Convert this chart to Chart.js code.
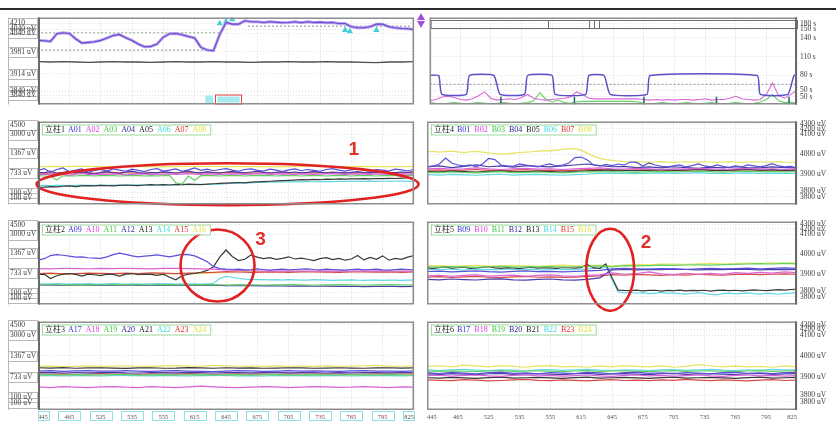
<!DOCTYPE html>
<html>
<head>
<meta charset="utf-8">
<script src="https://cdn.jsdelivr.net/npm/chart.js@4.4.0/dist/chart.umd.min.js"></script>
<style>
html, body { margin: 0; padding: 0; background: #fff; }
#stage { position: relative; width: 836px; height: 425px; overflow: hidden; background: #fff; }
canvas { position: absolute; }
.topline { position: absolute; left: 0; top: 8px; width: 836px; height: 2px; background: #2a2a2a; z-index: 2; }
.arr-up, .arr-dn { position: absolute; left: 417px; width: 0; height: 0; border-left: 4px solid transparent; border-right: 4px solid transparent; z-index: 2; }
.arr-up { top: 13px; border-bottom: 7px solid #a64de0; }
.arr-dn { top: 21px; border-top: 7px solid #a64de0; }
</style>
</head>
<body>
<div id="stage">
  <canvas id="tl"></canvas><canvas id="tr"></canvas>
  <canvas id="p1"></canvas><canvas id="p4"></canvas>
  <canvas id="p2"></canvas><canvas id="p5"></canvas>
  <canvas id="p3"></canvas><canvas id="p6"></canvas>
  <div class="topline"></div>
  <div class="arr-up"></div><div class="arr-dn"></div>
</div>
<script>
// ---- time axis (minutes from start) ----
const xTickVals = [0, 10, 20, 30, 40, 50, 60, 70, 80, 90, 100, 110, 120];
const xTickLabels = ['445', '465', '525', '535', '555', '615', '645', '675', '705', '735', '765', '795', '825'];

// ---- axis tick tables ----
const volTickVals = [4066, 4048, 4036, 3981, 3914, 3862, 3850];
const volTickLabels = ['4210', '4040 uV', '4040 uV', '3981 uV', '3914 uV', '3840 uV', '3840 uV'];
const secTickVals = [162, 153, 140, 110, 80, 57, 46];
const secTickLabels = ['180 s', '150 s', '140 s', '110 s', '80 s', '50 s', '50 s'];
const leftTickVals = [2300, 1980, 1367, 733, 100, -60];
const leftTickLabels = ['4500', '3000 uV', '1367 uV', '733 uV', '100 uV', '100 uV'];
const rightTickVals = [4150, 4128, 4100, 4000, 3900, 3815, 3785];
const rightTickLabels = ['4300 uV', '4200 uV', '4100 uV', '4000 uV', '3900 uV', '3800 uV', '3800 uV'];

// ---- supply voltage trace (uV) ----
const tlVolt = [4015,4014,4012,4035,4038,4036,4020,4007,4009,4011,4015,4022,4030,4033,4023,4015,4004,3996,3997,4004,
  4025,4035,4036,4032,4027,4022,3994,3986,3984,4033,4069,4064,4064,4074,4071,4071,4069,4071,4070,4068,
  4069,4071,4068,4071,4069,4070,4068,4069,4066,4066,4056,4053,4053,4056,4064,4064,4056,4053,4051,4050,4048];
const tlBase = [3951,3950,3951,3950,3949,3950,3951,3950,3950,3949,3950,3951,3950,3950,3951,3950,3950,3949,3950,3950,
  3951,3950,3950,3951,3950,3950,3949,3948,3950,3950,3951];
const tlGuideUpper = [1, 58, 4038];
const tlGuideLower = [1, 56.5, 3986];
const tlGuideAfter = [67, 119, 4058];
const tlMarkX = [58, 60, 62, 98, 99.5, 108];
const tlMarkY = [4066, 4072, 4078, 4046, 4042, 4046];

// ---- interval trace (s) ----
const trStepX = [0, 3, 4, 12, 13, 21, 23, 31, 32, 40, 41, 51, 52, 57, 59, 71, 72, 107, 108, 117, 119, 120];
const trStepY = [80, 80, 50, 50, 80, 80, 50, 50, 80, 80, 50, 50, 80, 80, 50, 50, 80, 80, 50, 50, 80, 80];
const trPink = [40,42,46,47,45,42,41,43,48,54,44,41,42,43,42,45,50,44,42,41,42,43,44,46,54,50,44,43,43,43,
  43,43,43,43,43,42,41,42,41,42,41,42,42,41,42,43,41,42,42,44,47,43,42,41,42,50,68,48,44,50,57];
const trGreen = [37,36,35,36,37,36,35,36,37,36,35,36,37,36,35,36,37,40,53,42,38,41,37,36,38,39,39,39,39,39,
  39,39,39,39,38,36,35,36,37,36,35,36,37,36,35,36,37,36,35,36,37,36,35,36,38,42,50,40,37,38,36];
const trLevel = 66;
const trMarkX = [23.3, 47.3, 70, 93.7, 117.4];
const trMarkY = [40, 40, 40, 40, 40];

// ---- 立柱1 (uV) ----
const a01 = [820,880,760,850,900,780,830,870,760,820,850,800,870,830,790,860,820,780,850,880,800,830,870,790,840,900,820,860,810,850,
  880,830,790,850,870,820,800,860,830,780,840,870,810,850,820,790,850,880,830,800,840,870,820,790,850,830,800,860,840,810,850];
const a02 = [690,700,680,710,690,670,700,720,690,680,700,690,710,700,680,690,710,700,690,680,700,710,690,700,720,700,690,710,700,690,
  700,710,700,690,700,720,710,690,700,710,700,690,710,700,690,700,710,720,700,690,700,710,700,690,710,700,690,700,710,700,690];
const a03 = [650,640,630,520,640,650,640,660,650,640,650,660,650,640,650,660,650,640,650,640,650,660,420,380,640,500,650,660,650,640,
  650,660,650,640,650,660,650,650,640,650,660,650,640,650,660,650,640,650,660,650,640,650,660,650,640,650,660,650,640,650,660];
const a04 = [760,740,800,720,760,790,730,770,740,700,760,790,740,720,770,800,750,720,760,740,780,760,730,770,800,760,740,780,750,730,
  770,790,760,740,770,800,760,730,760,780,750,770,740,760,790,760,740,770,750,730,760,780,750,740,770,790,760,750,770,760,780];
const a05 = [270,280,300,290,310,320,300,320,330,320,340,330,320,340,350,340,330,350,360,350,360,350,370,360,380,370,360,380,390,400,
  410,420,430,420,440,450,460,470,480,490,500,510,520,515,530,520,540,530,545,540,550,545,555,550,560,555,565,560,570,575,578];
const a06 = [330,335,330,340,335,330,340,345,340,335,345,340,350,345,340,350,355,350,345,355,360,355,350,360,365,360,370,365,375,380,
  390,400,410,415,420,430,435,440,445,450,450,455,450,460,455,460,465,460,465,470,465,470,468,472,468,470,475,470,472,468,470];
const a07 = [740,730,750,745,735,740,755,745,735,740,750,745,738,742,750,748,740,736,745,752,744,738,742,750,746,740,744,750,746,742,748];
const a08 = [945,950,940,948,952,944,938,946,950,942,936,944,950,955,948,940,946,952,944,938,942,948,954,946,940,944,950,946,940,944,948];

// ---- 立柱2 (uV) ----
const a09 = [1150,1200,1300,1330,1310,1280,1250,1260,1230,1220,1210,1260,1330,1380,1340,1290,1260,1280,1300,1320,1290,
  1260,1300,1340,1330,1290,1200,1100,950,880,860,850,860,840,850,870,850,830,850,860,840,850,860,870,850,840,860,850,840,830,850,
  860,840,850,860,840,830,850,860,850,840];
const a10 = [880,870,890,880,875,885,880,890,880,870,885,890,880,870,860,840,820,810,800,805,800,795,800,805,800,795,800,805,800,795,800];
const a11 = [360,355,350,360,355,350,360,365,355,350,360,355,350,360,355,350,360,355,350,355,360,355,350,355,360,355,350,355,360,355,350];
const a12 = [350,345,340,350,345,340,345,350,340,335,345,340,335,340,345,330,325,330,320,325,315,320,310,315,305,310,300,305,310,300,305];
const a13 = [680,700,560,650,700,720,690,640,700,680,650,700,690,640,700,720,680,700,690,660,700,600,520,650,700,720,760,820,
  940,1250,1480,1270,1140,1180,1320,1250,1200,1230,1180,1210,1260,1190,1220,1180,1140,1200,1230,1170,1210,1150,1190,1300,1160,1240,
  1180,1290,1150,1210,1180,1250,1300];
const a14 = [390,380,385,395,390,380,385,390,395,385,380,390,395,385,380,390,385,380,390,395,385,390,380,385,390,385,380,390,400,
  560,630,600,560,540,530,520,525,515,520,510,520,515,505,510,520,515,510,500,505,510,515,505,500,510,505,500,510,505,500,505,510];
const a15 = [720,730,710,720,735,725,715,730,720,740,730,720,735,745,760,780,770,760,765,770,760,775,770,765,760,770,775,765,770,760,770];
const a16 = [700,705,700,710,705,700,710,715,705,700,710,705,715,720,740,760,780,790,790,785,790,795,790,785,790,795,790,785,790,795,790];

// ---- 立柱3 (uV) ----
const a17 = [900,910,890,905,915,900,895,910,900,890,905,915,900,890,880,900,910,905,890,900,910,895,905,900,890,905,910,895,900,890,905];
const a18 = [420,400,430,410,395,420,430,410,400,425,415,400,420,440,420,405,395,410,430,420,400,415,430,420,405,410,430,415,400,420,415];
const a19 = [790,785,780,790,785,780,790,795,780,785,790,780,785,790,780,785,790,780,785,790,785,780,790,785,780,790,785,780,790,785,780];
const a20 = [850,860,840,855,845,850,860,845,840,855,850,845,860,850,840,850,855,845,850,860,845,850,855,840,850,845,855,850,845,850,855];
const a21 = [1000,990,1005,985,995,1000,990,980,995,1000,985,990,1005,995,985,1000,990,995,985,990,1000,995,985,990,1000,990,985,995,1000,990,995];
const a22 = [760,770,755,765,760,750,765,770,760,755,765,760,750,760,770,765,755,760,750,765,760,770,755,760,765,750,760,770,760,755,765];
const a23 = [810,805,815,800,810,820,805,810,800,815,810,805,820,810,800,810,815,805,810,800,815,810,805,815,810,800,810,815,805,810,815];
const a24 = [1040,1050,1035,1045,1055,1040,1050,1060,1045,1040,1055,1065,1050,1045,1070,1055,1045,1050,1040,1055,1045,1050,1040,1055,1045,1050,1060,1070,1050,1045,1055];

// ---- 立柱4 (uV) ----
const b01 = [3935,3940,3950,3980,3955,3945,3940,3945,3935,3950,3978,3972,3945,3940,3938,3950,3945,3940,3935,3945,3950,3940,3945,3955,3982,3985,3970,3945,3940,3948,
  3942,3950,3945,3960,3958,3940,3955,3945,3938,3935,3940,3945,3935,3942,3950,3940,3935,3945,3938,3932,3940,3935,3945,3940,3935,3942,3952,3940,3935,3938,3930];
const b02 = [3925,3928,3924,3926,3930,3925,3922,3926,3928,3924,3926,3922,3925,3928,3930,3926,3924,3928,3925,3922,3926,3924,3928,3925,3922,3926,3928,3924,3926,3922,3925];
const b03 = [3908,3906,3910,3907,3905,3909,3911,3906,3908,3910,3907,3905,3909,3911,3910,3912,3910,3908,3911,3913,3910,3912,3914,3911,3909,3912,3914,3911,3913,3910,3912];
const b04 = [3935,3940,3932,3938,3945,3936,3940,3934,3942,3938,3935,3940,3945,3950,3942,3936,3938,3932,3935,3930,3936,3932,3928,3934,3930,3936,3932,3930,3935,3932,3930];
const b05 = [3912,3910,3914,3911,3909,3913,3915,3910,3912,3914,3911,3909,3913,3915,3918,3920,3918,3916,3919,3921,3918,3920,3922,3919,3917,3920,3922,3919,3921,3918,3920];
const b06 = [3896,3894,3897,3895,3893,3896,3898,3894,3896,3897,3895,3893,3896,3898,3902,3904,3903,3901,3904,3905,3903,3904,3906,3903,3902,3904,3905,3903,3904,3902,3903];
const b07 = [3918,3920,3916,3919,3922,3918,3915,3919,3921,3917,3919,3916,3918,3921,3922,3919,3917,3920,3918,3915,3919,3917,3921,3918,3916,3919,3921,3917,3919,3916,3918];
const b08 = [4012,4014,4010,4013,4015,4011,4008,4012,4014,4010,4006,4003,4000,4002,4005,4008,4010,4012,4015,4018,4016,4020,4024,4026,4028,
  4020,4005,3990,3980,3972,3968,3965,3962,3960,3962,3960,3958,3960,3962,3960,3958,3960,3961,3960,3959,3961,3960,3958,3960,3962,3960,3958,3960,3961,3960,3959,3960,3962,3960,3958,3960];

// ---- 立柱5 (uV) ----
const b09 = [3912,3914,3910,3913,3915,3911,3909,3913,3915,3911,3913,3910,3912,3915,3918,3925,3928,3926,3924,3927,3925,3923,3926,3928,3925,3927,3929,3926,3928,3930,3928];
const b10 = [3890,3893,3888,3892,3895,3889,3891,3894,3888,3892,3895,3890,3888,3892,3895,3905,3898,3902,3910,3900,3896,3903,3898,3902,3897,3906,3903,3908,3904,3910,3906];
const b11 = [3936,3934,3937,3935,3933,3936,3938,3934,3936,3935,3937,3934,3936,3938,3940,3935,3942,3940,3942,3944,3943,3945,3946,3944,3947,3948,3950,3952,3950,3953,3951];
const b12 = [3872,3870,3874,3871,3869,3873,3875,3870,3868,3872,3874,3870,3868,3872,3880,3920,3922,3920,3923,3921,3924,3922,3920,3923,3921,3924,3922,3920,3923,3921,3922];
const b13 = [3930,3928,3932,3935,3929,3931,3934,3928,3930,3933,3936,3930,3928,3932,3930,3927,3931,3934,3929,3932,3930,3928,3933,3931,3929,3932,3948,
  3930,3928,3950,3880,3818,3816,3815,3818,3814,3816,3817,3813,3816,3815,3818,3814,3816,3815,3817,3813,3816,3818,3815,3817,3814,3816,3819,3817,3815,3818,3820,3818,3821,3823];
const b14 = [3922,3924,3920,3923,3925,3921,3919,3923,3925,3921,3923,3920,3922,3925,3923,3920,3922,3924,3921,3919,3923,3925,3921,3923,3920,3922,3925,3930,3926,3935,
  3870,3808,3804,3806,3802,3805,3800,3803,3806,3801,3804,3800,3798,3802,3805,3801,3796,3794,3800,3803,3799,3801,3804,3800,3798,3802,3800,3797,3801,3803,3805];
const b15 = [3884,3886,3882,3885,3887,3883,3881,3885,3887,3883,3885,3882,3884,3887,3890,3896,3893,3897,3895,3892,3896,3894,3898,3895,3893,3897,3899,3896,3898,3900,3898];
const b16 = [3940,3942,3938,3941,3943,3939,3941,3943,3940,3938,3942,3944,3940,3942,3944,3940,3945,3948,3946,3949,3950,3948,3951,3953,3950,3952,3955,3953,3956,3954,3956];

// ---- 立柱6 (uV) ----
const b17 = [3922,3918,3924,3920,3916,3922,3925,3919,3921,3917,3923,3920,3918,3924,3921,3917,3922,3925,3919,3921,3918,3923,3920,3917,3922,3924,3919,3921,3918,3923,3924];
const b18 = [3908,3910,3906,3909,3911,3907,3905,3909,3911,3907,3909,3906,3908,3911,3907,3905,3909,3911,3907,3909,3906,3908,3911,3907,3905,3909,3911,3907,3909,3906,3908];
const b19 = [3930,3928,3931,3929,3927,3930,3932,3928,3930,3931,3929,3927,3930,3932,3928,3930,3931,3929,3927,3930,3932,3928,3930,3931,3929,3927,3930,3932,3928,3930,3931];
const b20 = [3916,3914,3918,3915,3913,3917,3919,3914,3916,3918,3915,3913,3917,3919,3914,3916,3918,3915,3913,3917,3919,3914,3916,3918,3915,3913,3917,3919,3914,3916,3918];
const b21 = [3898,3896,3900,3897,3895,3899,3901,3896,3898,3900,3897,3895,3899,3901,3896,3898,3900,3897,3895,3899,3901,3896,3898,3900,3897,3895,3899,3901,3896,3898,3900];
const b22 = [3935,3932,3936,3938,3934,3932,3936,3934,3930,3935,3937,3933,3936,3938,3934,3932,3936,3934,3932,3935,3937,3933,3935,3938,3934,3932,3936,3934,3938,3935,3936];
const b23 = [3888,3886,3884,3889,3887,3883,3885,3888,3890,3886,3884,3888,3886,3883,3887,3889,3885,3887,3884,3888,3886,3890,3887,3884,3888,3886,3883,3887,3889,3885,3887];
const b24 = [3952,3955,3950,3958,3954,3950,3956,3952,3948,3954,3956,3950,3952,3948,3954,3950,3956,3952,3950,3954,3948,3952,3960,3955,3950,3954,3950,3952,3948,3954,3950];

// channel colours, in legend order
const palette = ['#5a50d8', '#d862d8', '#62d062', '#4a3ca8', '#3a3a3a', '#62d8e2', '#d84a4a', '#e6e462'];
const legendPalette = ['#3030d0', '#e040e0', '#40c840', '#282890', '#202020', '#40d8e0', '#e03030', '#e0e040'];

const FONT = "'Liberation Serif', 'Noto Sans CJK SC', serif";
Chart.defaults.font.family = FONT;

// frames, tick boxes, legends and hand-drawn markings
const panelDecor = {
  id: 'panelDecor',
  beforeDraw(chart, args, o) {
    const ctx = chart.ctx, a = chart.chartArea, ys = chart.scales.y;
    ctx.save();
    ctx.fillStyle = '#fff';
    ctx.fillRect(0, 0, chart.width, chart.height);
    if (o.side === 'left') {
      ctx.strokeStyle = '#b8b8b8';
      ctx.lineWidth = 1;
      ys.ticks.forEach(t => {
        const y = Math.round(ys.getPixelForValue(t.value)) + 0.5;
        ctx.strokeRect(8.5, y - 5, a.left - 9, 10);
      });
      ctx.beginPath();
      ctx.moveTo(8.5, a.top); ctx.lineTo(8.5, a.bottom);
      ctx.stroke();
    }
    ctx.restore();
  },
  afterDatasetsDraw(chart, args, o) {
    const ctx = chart.ctx, a = chart.chartArea, xs = chart.scales.x, ys = chart.scales.y;
    ctx.save();
    if (o.statusBox) {
      const y1 = Math.round(ys.getPixelForValue(o.statusBox.hi)) + 0.5;
      const y2 = Math.round(ys.getPixelForValue(o.statusBox.lo)) + 0.5;
      ctx.strokeStyle = '#6e6e6e'; ctx.lineWidth = 1;
      ctx.strokeRect(a.left + 1.5, y1, a.right - a.left - 1, y2 - y1);
      o.statusBox.marks.forEach(u => {
        const x = Math.round(xs.getPixelForValue(u)) + 0.5;
        ctx.beginPath(); ctx.moveTo(x, y1); ctx.lineTo(x, y2); ctx.stroke();
      });
    }
    if (o.cursor) {
      const x1 = xs.getPixelForValue(o.cursor.from), xm = xs.getPixelForValue(o.cursor.mid), x2 = xs.getPixelForValue(o.cursor.to);
      ctx.fillStyle = '#a4eaee';
      ctx.fillRect(x1, a.bottom - 9, xm - x1 - 2, 8);
      ctx.fillRect(xm + 2, a.bottom - 8, x2 - xm - 4, 6);
      ctx.strokeStyle = '#e04040'; ctx.lineWidth = 1;
      ctx.strokeRect(Math.round(xm) + 0.5, a.bottom - 9.5, Math.round(x2 - xm), 9);
    }
    (o.ellipses || []).forEach(e => {
      ctx.strokeStyle = '#e02222'; ctx.lineWidth = 2.6;
      ctx.beginPath();
      ctx.ellipse(xs.getPixelForValue(e.x), ys.getPixelForValue(e.y), e.rx, e.ry, 0, 0, Math.PI * 2);
      ctx.stroke();
    });
    (o.notes || []).forEach(n => {
      ctx.fillStyle = '#e0302c';
      ctx.font = "bold 19px 'Liberation Sans', Arial, sans-serif";
      ctx.textAlign = 'center'; ctx.textBaseline = 'middle';
      ctx.fillText(n.text, xs.getPixelForValue(n.x), ys.getPixelForValue(n.y));
    });
    ctx.restore();
  },
  afterDraw(chart, args, o) {
    const ctx = chart.ctx, a = chart.chartArea, xs = chart.scales.x;
    ctx.save();
    // plot frame
    ctx.strokeStyle = '#8e8e8e'; ctx.lineWidth = 1.5;
    ctx.strokeRect(a.left + 0.75, a.top + 0.75, a.right - a.left - 1.5, a.bottom - a.top - 1.5);
    ctx.strokeStyle = '#6a6a6a'; ctx.lineWidth = 2;
    ctx.beginPath();
    if (o.side === 'left') { ctx.moveTo(a.left + 1, a.top); ctx.lineTo(a.left + 1, a.bottom); }
    else { ctx.moveTo(a.right - 1, a.top); ctx.lineTo(a.right - 1, a.bottom); }
    ctx.stroke();
    // channel legend
    if (o.legend) {
      ctx.font = '8px ' + FONT;
      ctx.textBaseline = 'middle'; ctx.textAlign = 'left';
      const x0 = a.left + 4, y0 = a.top + 3;
      let w = ctx.measureText(o.legend.title).width + 6;
      o.legend.names.forEach(nm => { w += ctx.measureText(nm).width + 4; });
      ctx.fillStyle = '#fff'; ctx.fillRect(x0, y0, w, 10);
      ctx.strokeStyle = '#9edc9e'; ctx.lineWidth = 1;
      ctx.strokeRect(x0 + 0.5, y0 + 0.5, w, 10);
      let x = x0 + 3;
      ctx.fillStyle = '#222';
      ctx.fillText(o.legend.title, x, y0 + 5.5);
      x += ctx.measureText(o.legend.title).width + 3;
      o.legend.names.forEach((nm, i) => {
        ctx.fillStyle = legendPalette[i];
        ctx.fillText(nm, x, y0 + 5.5);
        x += ctx.measureText(nm).width + 4;
      });
    }
    // boxed time labels
    if (o.timeBoxes) {
      ctx.strokeStyle = '#8ee0e6'; ctx.lineWidth = 1;
      xTickVals.forEach(v => {
        const px = xs.getPixelForValue(v);
        const l = Math.max(a.left, px - 11), r = Math.min(a.right, px + 11);
        ctx.strokeRect(Math.round(l) + 0.5, a.bottom + 1.5, Math.round(r - l), 9);
      });
    }
    ctx.restore();
  }
};
Chart.register(panelDecor);

function series(vals, color, extra) {
  const n = vals.length - 1;
  return Object.assign({
    data: vals.map((v, i) => ({ x: i * 120 / n, y: v })),
    borderColor: color, borderWidth: 1.2, pointRadius: 0, fill: false, tension: 0
  }, extra || {});
}
function pairs(xsArr, ysArr, color, extra) {
  return Object.assign({
    data: xsArr.map((x, i) => ({ x: x, y: ysArr[i] })),
    borderColor: color, borderWidth: 1.2, pointRadius: 0, fill: false, tension: 0
  }, extra || {});
}
function guide(g, color) {
  return pairs([g[0], g[1]], [g[2], g[2]], color, { borderDash: [2, 2], borderWidth: 1 });
}
function channelSets(list) {
  return list.map((vals, i) => series(vals, palette[i]));
}

function panel(id, rect, cfg) {
  const cv = document.getElementById(id);
  cv.width = rect.w; cv.height = rect.h;
  cv.style.left = rect.x + 'px'; cv.style.top = rect.y + 'px';
  cv.style.width = rect.w + 'px'; cv.style.height = rect.h + 'px';
  const left = cfg.side === 'left';
  return new Chart(cv, {
    type: 'line',
    data: { datasets: cfg.datasets },
    options: {
      responsive: false, animation: false, devicePixelRatio: 1,
      layout: { padding: { left: left ? 10 : 3, right: left ? 10 : 0, top: 0, bottom: 0 } },
      events: [],
      plugins: { legend: { display: false }, tooltip: { enabled: false }, panelDecor: cfg.decor },
      scales: {
        x: {
          type: 'linear', min: 0, max: 120,
          afterBuildTicks: s => { s.ticks = xTickVals.map(v => ({ value: v })); },
          afterFit: s => { s.height = cfg.bottom ? 14 : 0; },
          ticks: {
            display: !!cfg.bottom, autoSkip: false, maxRotation: 0, align: 'inner', padding: 3,
            color: '#555', font: { size: 6.5 },
            callback: (v, i) => xTickLabels[i]
          },
          grid: { color: '#d6d6d6', lineWidth: 1, drawTicks: false },
          border: { display: false, dash: [1, 2] }
        },
        y: {
          type: 'linear', position: left ? 'left' : 'right', min: cfg.min, max: cfg.max,
          afterBuildTicks: s => { s.ticks = cfg.tickVals.map(v => ({ value: v })); },
          afterFit: s => { s.width = left ? 28 : 39; },
          ticks: {
            autoSkip: false, padding: 3, crossAlign: left ? 'far' : 'near',
            color: '#3a3a3a', font: { size: 7.5 },
            callback: (v, i) => cfg.tickLabels[i]
          },
          grid: { color: '#e0e0e0', lineWidth: 1, drawTicks: false },
          border: { display: false, dash: [1, 2] }
        }
      }
    }
  });
}

const L = { x: 0, w: 424 }, R = { x: 424, w: 412 };
const rows = [{ y: 10, h: 102 }, { y: 114, h: 98 }, { y: 214, h: 98 }, { y: 314, h: 110 }];
const leftRange = { min: -280, max: 2400 }, rightRange = { min: 3745, max: 4165 };
const names = (p, from) => Array.from({ length: 8 }, (_, i) => p + String(from + i).padStart(2, '0'));

// supply voltage
panel('tl', { x: L.x, y: rows[0].y, w: L.w, h: rows[0].h }, {
  side: 'left', min: 3822, max: 4084, tickVals: volTickVals, tickLabels: volTickLabels,
  decor: { side: 'left', cursor: { from: 53.4, mid: 56.6, to: 65 } },
  datasets: [
    series(tlVolt, '#6a48d0', { borderWidth: 1.1 }),
    series(tlVolt, '#b9a2ec', { borderWidth: 3 }),
    pairs(tlMarkX, tlMarkY, '#44d0d8', { showLine: false, pointRadius: 2.5, pointStyle: 'triangle', pointBackgroundColor: '#44d0d8', pointBorderColor: '#44d0d8' }),
    guide(tlGuideAfter, '#8c8c8c'),
    guide(tlGuideUpper, '#8fa88f'),
    guide(tlGuideLower, '#8c8c8c'),
    series(tlBase, '#4e4e4e', { borderWidth: 1.3 })
  ]
});

// interval
panel('tr', { x: R.x, y: rows[0].y, w: R.w, h: rows[0].h }, {
  side: 'right', min: 34, max: 172, tickVals: secTickVals, tickLabels: secTickLabels,
  decor: { side: 'right', statusBox: { hi: 168, lo: 155, marks: [38.6, 52.2, 53.6, 55.4] } },
  datasets: [
    pairs(trStepX, trStepY, '#5a50c8', { borderWidth: 1.5, tension: 0.15 }),
    pairs(trMarkX, trMarkY, '#2e6a6a', { showLine: false, pointRadius: 4, pointStyle: 'line', rotation: 90, borderWidth: 1.6 }),
    series(trPink, '#d866d8', { borderWidth: 1.1 }),
    series(trGreen, '#66d066', { borderWidth: 1.1 }),
    pairs([0, 120], [trLevel, trLevel], '#8a8a8a', { borderDash: [2, 2], borderWidth: 1 })
  ]
});

panel('p1', { x: L.x, y: rows[1].y, w: L.w, h: rows[1].h }, {
  side: 'left', ...leftRange, tickVals: leftTickVals, tickLabels: leftTickLabels,
  decor: { side: 'left', legend: { title: '立柱1', names: names('A', 1) },
    ellipses: [{ x: 60.5, y: 376, rx: 191, ry: 21 }], notes: [{ x: 100.8, y: 1497, text: '1' }] },
  datasets: channelSets([a01, a02, a03, a04, a05, a06, a07, a08])
});
panel('p2', { x: L.x, y: rows[2].y, w: L.w, h: rows[2].h }, {
  side: 'left', ...leftRange, tickVals: leftTickVals, tickLabels: leftTickLabels,
  decor: { side: 'left', legend: { title: '立柱2', names: names('A', 9) },
    ellipses: [{ x: 57.3, y: 978, rx: 37, ry: 36 }], notes: [{ x: 71, y: 1826, text: '3' }] },
  datasets: channelSets([a09, a10, a11, a12, a13, a14, a15, a16])
});
panel('p3', { x: L.x, y: rows[3].y, w: L.w, h: rows[3].h }, {
  side: 'left', bottom: true, ...leftRange, tickVals: leftTickVals, tickLabels: leftTickLabels,
  decor: { side: 'left', timeBoxes: true, legend: { title: '立柱3', names: names('A', 17) } },
  datasets: channelSets([a17, a18, a19, a20, a21, a22, a23, a24])
});
panel('p4', { x: R.x, y: rows[1].y, w: R.w, h: rows[1].h }, {
  side: 'right', ...rightRange, tickVals: rightTickVals, tickLabels: rightTickLabels,
  decor: { side: 'right', legend: { title: '立柱4', names: names('B', 1) } },
  datasets: channelSets([b01, b02, b03, b04, b05, b06, b07, b08])
});
panel('p5', { x: R.x, y: rows[2].y, w: R.w, h: rows[2].h }, {
  side: 'right', ...rightRange, tickVals: rightTickVals, tickLabels: rightTickLabels,
  decor: { side: 'right', legend: { title: '立柱5', names: names('B', 9) },
    ellipses: [{ x: 59.4, y: 3921, rx: 24, ry: 41 }], notes: [{ x: 71, y: 4058, text: '2' }] },
  datasets: channelSets([b09, b10, b11, b12, b13, b14, b15, b16])
});
panel('p6', { x: R.x, y: rows[3].y, w: R.w, h: rows[3].h }, {
  side: 'right', bottom: true, ...rightRange, tickVals: rightTickVals, tickLabels: rightTickLabels,
  decor: { side: 'right', legend: { title: '立柱6', names: names('B', 17) } },
  datasets: channelSets([b17, b18, b19, b20, b21, b22, b23, b24])
});
</script>
</body>
</html>
